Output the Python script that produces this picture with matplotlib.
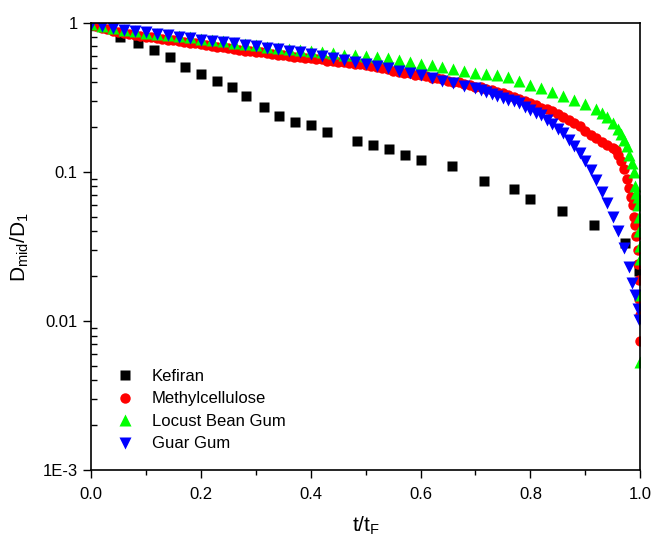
import matplotlib
matplotlib.use('Agg')
import matplotlib.pyplot as plt
from matplotlib.ticker import LogLocator, NullFormatter, FixedLocator, MultipleLocator, FormatStrFormatter

plt.rcParams['font.family'] = ['Liberation Sans', 'DejaVu Sans']

# Kefiran
kef_t = [0.0, 0.053, 0.085, 0.115, 0.144, 0.171, 0.200, 0.230, 0.257, 0.283,
         0.315, 0.343, 0.372, 0.401, 0.429, 0.485, 0.514, 0.543, 0.571, 0.601,
         0.658, 0.715, 0.771, 0.800, 0.858, 0.915, 0.973, 0.998]
kef_y = [1.0, 0.81, 0.74, 0.66, 0.59, 0.51, 0.455, 0.41, 0.37, 0.326,
         0.272, 0.239, 0.218, 0.206, 0.185, 0.162, 0.152, 0.142, 0.130, 0.120,
         0.109, 0.0875, 0.0766, 0.0662, 0.0552, 0.0439, 0.0332, 0.0218]

# Methylcellulose
mc_t = [0.00, 0.01, 0.02, 0.03, 0.04, 0.05, 0.06, 0.07, 0.08, 0.09,
        0.10, 0.11, 0.12, 0.13, 0.14, 0.15, 0.16, 0.17, 0.18, 0.19,
        0.20, 0.21, 0.22, 0.23, 0.24, 0.25, 0.26, 0.27, 0.28, 0.29,
        0.30, 0.31, 0.32, 0.33, 0.34, 0.35, 0.36, 0.37, 0.38, 0.39,
        0.40, 0.41, 0.42, 0.43, 0.44, 0.45, 0.46, 0.47, 0.48, 0.49,
        0.50, 0.51, 0.52, 0.53, 0.54, 0.55, 0.56, 0.57, 0.58, 0.59,
        0.60, 0.61, 0.62, 0.63, 0.64, 0.65, 0.66, 0.67, 0.68, 0.69,
        0.70, 0.71, 0.72, 0.73, 0.74, 0.75, 0.76, 0.77, 0.78, 0.79,
        0.80, 0.81, 0.82, 0.83, 0.84, 0.85, 0.86, 0.87, 0.88, 0.89,
        0.90, 0.91, 0.92, 0.93, 0.94, 0.95, 0.955, 0.96, 0.965, 0.97,
        0.975, 0.98, 0.983, 0.986, 0.989, 0.991, 0.993, 0.995, 0.996, 0.997,
        0.998, 0.999, 1.0]
mc_y = [0.97, 0.95, 0.93, 0.91, 0.89, 0.87, 0.86, 0.845, 0.835, 0.82,
        0.81, 0.80, 0.79, 0.785, 0.775, 0.77, 0.76, 0.75, 0.74, 0.73,
        0.72, 0.715, 0.705, 0.695, 0.69, 0.68, 0.67, 0.66, 0.65, 0.645,
        0.64, 0.635, 0.625, 0.62, 0.615, 0.61, 0.60, 0.595, 0.59, 0.585,
        0.58, 0.575, 0.57, 0.56, 0.555, 0.55, 0.545, 0.54, 0.535, 0.53,
        0.52, 0.515, 0.505, 0.50, 0.49, 0.48, 0.47, 0.465, 0.46, 0.45,
        0.445, 0.44, 0.43, 0.425, 0.42, 0.41, 0.405, 0.40, 0.39, 0.385,
        0.375, 0.37, 0.36, 0.355, 0.345, 0.34, 0.33, 0.32, 0.31, 0.30,
        0.29, 0.28, 0.27, 0.265, 0.255, 0.245, 0.235, 0.225, 0.215, 0.205,
        0.19, 0.178, 0.168, 0.16, 0.152, 0.145, 0.14, 0.13, 0.118, 0.105,
        0.09, 0.078, 0.068, 0.06, 0.05, 0.044, 0.037, 0.030, 0.024, 0.019,
        0.014, 0.011, 0.0074]

# Locust Bean Gum
lbg_t = [0.00, 0.02, 0.04, 0.06, 0.08, 0.10, 0.12, 0.14, 0.16, 0.18,
         0.20, 0.22, 0.24, 0.26, 0.28, 0.30, 0.32, 0.34, 0.36, 0.38,
         0.40, 0.42, 0.44, 0.46, 0.48, 0.50, 0.52, 0.54, 0.56, 0.58,
         0.60, 0.62, 0.64, 0.66, 0.68, 0.70, 0.72, 0.74, 0.76, 0.78,
         0.80, 0.82, 0.84, 0.86, 0.88, 0.90, 0.92, 0.93, 0.94, 0.95,
         0.96, 0.965, 0.97, 0.975, 0.98, 0.985, 0.988, 0.991, 0.993, 0.995,
         0.996, 0.997, 0.998, 0.999, 0.9995, 1.0, 1.0]
lbg_y = [0.985, 0.95, 0.92, 0.90, 0.88, 0.86, 0.845, 0.83, 0.815, 0.80,
         0.785, 0.77, 0.755, 0.74, 0.725, 0.71, 0.695, 0.68, 0.67, 0.66,
         0.645, 0.635, 0.625, 0.615, 0.61, 0.60, 0.59, 0.58, 0.565, 0.55,
         0.535, 0.52, 0.505, 0.49, 0.475, 0.465, 0.455, 0.445, 0.435, 0.41,
         0.385, 0.365, 0.345, 0.325, 0.305, 0.285, 0.265, 0.25, 0.235, 0.215,
         0.195, 0.18, 0.165, 0.15, 0.13, 0.115, 0.10, 0.08, 0.072, 0.068,
         0.06, 0.05, 0.04, 0.032, 0.026, 0.015, 0.0053]

# Guar Gum
gg_t = [0.00, 0.02, 0.04, 0.06, 0.08, 0.10, 0.12, 0.14, 0.16, 0.18,
        0.20, 0.22, 0.24, 0.26, 0.28, 0.30, 0.32, 0.34, 0.36, 0.38,
        0.40, 0.42, 0.44, 0.46, 0.48, 0.50, 0.52, 0.54, 0.56, 0.58,
        0.60, 0.62, 0.64, 0.66, 0.68, 0.70, 0.71, 0.72, 0.73, 0.74,
        0.75, 0.76, 0.77, 0.78, 0.79, 0.80, 0.81, 0.82, 0.83, 0.84,
        0.85, 0.86, 0.87, 0.88, 0.89, 0.90, 0.91, 0.92, 0.93, 0.94,
        0.95, 0.96, 0.97, 0.98, 0.985, 0.99, 0.995, 0.998]
gg_y = [0.985, 0.955, 0.93, 0.905, 0.885, 0.87, 0.85, 0.83, 0.81, 0.79,
        0.775, 0.76, 0.745, 0.73, 0.715, 0.70, 0.685, 0.67, 0.65, 0.635,
        0.62, 0.60, 0.585, 0.565, 0.55, 0.53, 0.515, 0.50, 0.48, 0.46,
        0.445, 0.425, 0.41, 0.395, 0.38, 0.365, 0.355, 0.345, 0.335, 0.325,
        0.315, 0.305, 0.30, 0.29, 0.275, 0.26, 0.25, 0.24, 0.225, 0.21,
        0.195, 0.183, 0.165, 0.15, 0.135, 0.118, 0.103, 0.088, 0.074, 0.062,
        0.05, 0.04, 0.031, 0.023, 0.018, 0.015, 0.012, 0.0102]

fig = plt.figure(figsize=(6.54, 5.36), dpi=100)
ax = fig.add_axes([0.139, 0.123, 0.840, 0.834])

ax.plot(kef_t, kef_y, 's', color='black', ms=6.5, mec='none', label='Kefiran')
ax.plot(mc_t, mc_y, 'o', color='red', ms=7.5, mec='none', label='Methylcellulose')
ax.plot(lbg_t, lbg_y, '^', color='#00ff00', ms=8.5, mec='none', label='Locust Bean Gum')
ax.plot(gg_t, gg_y, 'v', color='blue', ms=8.5, mec='none', label='Guar Gum')

ax.set_yscale('log')
ax.set_xlim(0, 1)
ax.set_ylim(1e-3, 1)

ax.yaxis.set_major_locator(FixedLocator([1e-3, 1e-2, 1e-1, 1]))
ax.set_yticklabels(['1E-3', '0.01', '0.1', '1'])
ax.yaxis.set_minor_locator(LogLocator(base=10, subs=range(2, 10)))
ax.yaxis.set_minor_formatter(NullFormatter())
ax.xaxis.set_major_locator(MultipleLocator(0.2))
ax.xaxis.set_minor_locator(MultipleLocator(0.1))
ax.xaxis.set_major_formatter(FormatStrFormatter('%.1f'))

ax.tick_params(axis='y', which='major', direction='out', length=6, width=1, labelsize=12)
ax.tick_params(axis='y', which='minor', direction='in', length=4, width=1)
ax.tick_params(axis='x', which='major', direction='out', length=6, width=1, labelsize=12, pad=6)
ax.tick_params(axis='x', which='minor', direction='out', length=3.5, width=1)
for s in ax.spines.values():
    s.set_linewidth(1.2)

ax.set_xlabel(r't/t$_\mathregular{F}$', fontsize=15, labelpad=9)
ax.set_ylabel(r'D$_\mathregular{mid}$/D$_\mathregular{1}$', fontsize=15, labelpad=8)

ax.legend(loc='upper left', bbox_to_anchor=(0.005, 0.26), frameon=False, fontsize=12,
          handletextpad=0.6, labelspacing=0.45, borderaxespad=0.5)

fig.savefig('out.png', dpi=100)
